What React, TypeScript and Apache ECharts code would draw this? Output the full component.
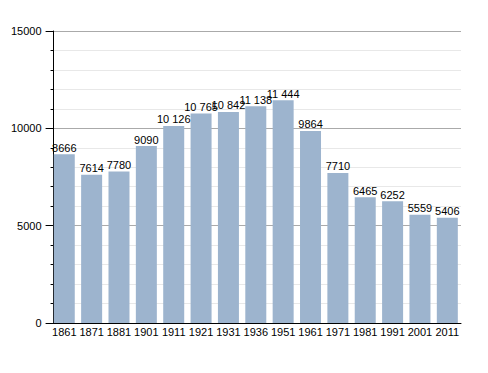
import React, { useEffect, useRef } from "react";
import * as echarts from "echarts";

const categories = ["1861", "1871", "1881", "1901", "1911", "1921", "1931", "1936", "1951", "1961", "1971", "1981", "1991", "2001", "2011"];
const population = [8666, 7614, 7780, 9090, 10126, 10765, 10842, 11138, 11444, 9864, 7710, 6465, 6252, 5559, 5406];

const fmt = (v: number) => (v >= 10000 ? String(v).replace(/\B(?=(\d{3})+(?!\d))/g, " ") : String(v));

export default function App() {
  const ref = useRef<HTMLDivElement>(null);
  useEffect(() => {
    const chart = echarts.init(ref.current!, null, { renderer: "svg" });
    chart.setOption({
      animation: false,
      grid: { left: 39, top: 23, right: 19, bottom: 42 },
      xAxis: {
        type: "category",
        data: categories,
        axisLine: { lineStyle: { color: "#000", width: 1 } },
        axisTick: { show: false },
        axisLabel: { color: "#000", fontSize: 11, fontFamily: "Liberation Sans", margin: 3, interval: 0 },
      },
      yAxis: {
        type: "value",
        min: 0,
        max: 15000,
        interval: 5000,
        offset: -3,
        axisLine: { show: true, lineStyle: { color: "#000", width: 1 } },
        axisTick: { show: true, length: 8, lineStyle: { color: "#000" } },
        minorTick: { show: true, splitNumber: 5, length: 3, lineStyle: { color: "#000" } },
        splitLine: { show: true, lineStyle: { color: "#aaaaaa", width: 1 } },
        minorSplitLine: { show: true, lineStyle: { color: "#e8e8e8", width: 1 } },
        axisLabel: {
          color: "#000",
          fontSize: 11,
          fontFamily: "Liberation Sans",
          margin: 12,
          formatter: (v: number) => String(v),
        },
      },
      series: [
        {
          type: "bar",
          data: population,
          barWidth: 21,
          itemStyle: { color: "#9db4ce" },
          label: {
            show: true,
            position: "top",
            distance: 1,
            color: "#000",
            fontSize: 11,
            fontFamily: "Liberation Sans",
            formatter: (p: any) => fmt(p.value),
          },
        },
      ],
    });
    return () => chart.dispose();
  }, []);
  return <div ref={ref} style={{ width: 472, height: 357 }} />;
}
